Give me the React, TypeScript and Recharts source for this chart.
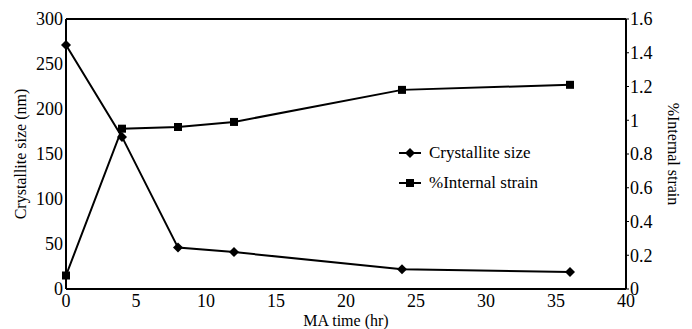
import * as React from "react";
import { LineChart, Line, XAxis, YAxis, ReferenceLine } from "recharts";

const maTime = [0, 4, 8, 12, 24, 36];
const crystalliteSize = [271, 169, 46, 41, 22, 19];
const internalStrain = [0.08, 0.95, 0.96, 0.99, 1.18, 1.21];

const xTicks = [0, 5, 10, 15, 20, 25, 30, 35, 40];
const leftTicks = [0, 50, 100, 150, 200, 250, 300];
const rightTicks = [0, 0.2, 0.4, 0.6, 0.8, 1, 1.2, 1.4, 1.6];

const seriesNames = ["Crystallite size", "%Internal strain"];

const data = maTime.map((t, i) => ({ time: t, size: crystalliteSize[i], strain: internalStrain[i] }));

const FONT = "'Liberation Serif', 'Times New Roman', serif";

const Diamond = (props: any) => {
  const { cx, cy } = props;
  if (cx == null || cy == null) return null;
  const r = 5;
  return <polygon points={`${cx},${cy - r} ${cx + r},${cy} ${cx},${cy + r} ${cx - r},${cy}`} fill="#000" />;
};

const Square = (props: any) => {
  const { cx, cy } = props;
  if (cx == null || cy == null) return null;
  const r = 4;
  return <rect x={cx - r} y={cy - r} width={r * 2} height={r * 2} fill="#000" />;
};

const LegendBox = () => (
  <div style={{ position: "absolute", left: 398, top: 138, fontSize: 17, color: "#000" }}>
    {seriesNames.map((name, i) => {
      const Mark = i === 0 ? Diamond : Square;
      return (
        <div key={name} style={{ display: "flex", alignItems: "center", height: 30 }}>
          <svg width={24} height={14} style={{ marginRight: 7 }}>
            <line x1={1} y1={7} x2={23} y2={7} stroke="#000" strokeWidth={2} />
            <Mark cx={12} cy={7} />
          </svg>
          <span>{name}</span>
        </div>
      );
    })}
  </div>
);

const axisText = { fill: "#000", fontSize: 18 };
const labelText = { fill: "#000", fontSize: 16 };

export default function App() {
  return (
    <div className="fig" style={{ position: "relative", width: 692, height: 329, background: "#fff" }}>
      <style>{`body{margin:0} .fig, .fig text, .fig span {font-family: ${FONT} !important;}`}</style>
      <LineChart width={692} height={329} data={data} margin={{ top: 19, right: 0, left: 0, bottom: 0 }}>
        <XAxis
          dataKey="time"
          type="number"
          domain={[0, 40]}
          ticks={xTicks}
          height={40}
          axisLine={{ stroke: "#000", strokeWidth: 2 }}
          tickLine={false}
          tick={axisText}
          tickSize={3}
          tickMargin={2}
          label={{ value: "MA time (hr)", position: "insideBottom", offset: 3, ...labelText }}
        />
        <YAxis
          yAxisId="left"
          domain={[0, 300]}
          ticks={leftTicks}
          width={66}
          axisLine={{ stroke: "#000", strokeWidth: 2 }}
          tickLine={false}
          tickSize={1}
          tick={axisText}
          tickMargin={2}
          label={{ value: "Crystallite size (nm)", angle: -90, position: "insideLeft", offset: 20, style: { textAnchor: "middle" }, ...labelText }}
        />
        <YAxis
          yAxisId="right"
          orientation="right"
          domain={[0, 1.6]}
          ticks={rightTicks}
          width={66}
          axisLine={{ stroke: "#000", strokeWidth: 2 }}
          tickLine={{ stroke: "#000" }}
          tickSize={3}
          tick={axisText}
          tickMargin={1}
          label={{ value: "%Internal strain", angle: 90, position: "insideRight", offset: 18, style: { textAnchor: "middle" }, ...labelText }}
        />
        <ReferenceLine yAxisId="left" y={300} stroke="#000" strokeWidth={2} />
        <Line yAxisId="left" dataKey="size" name={seriesNames[0]} stroke="#000" strokeWidth={2} dot={<Diamond />} activeDot={false} isAnimationActive={false} />
        <Line yAxisId="right" dataKey="strain" name={seriesNames[1]} stroke="#000" strokeWidth={2} dot={<Square />} activeDot={false} isAnimationActive={false} />
      </LineChart>
      <LegendBox />
    </div>
  );
}
